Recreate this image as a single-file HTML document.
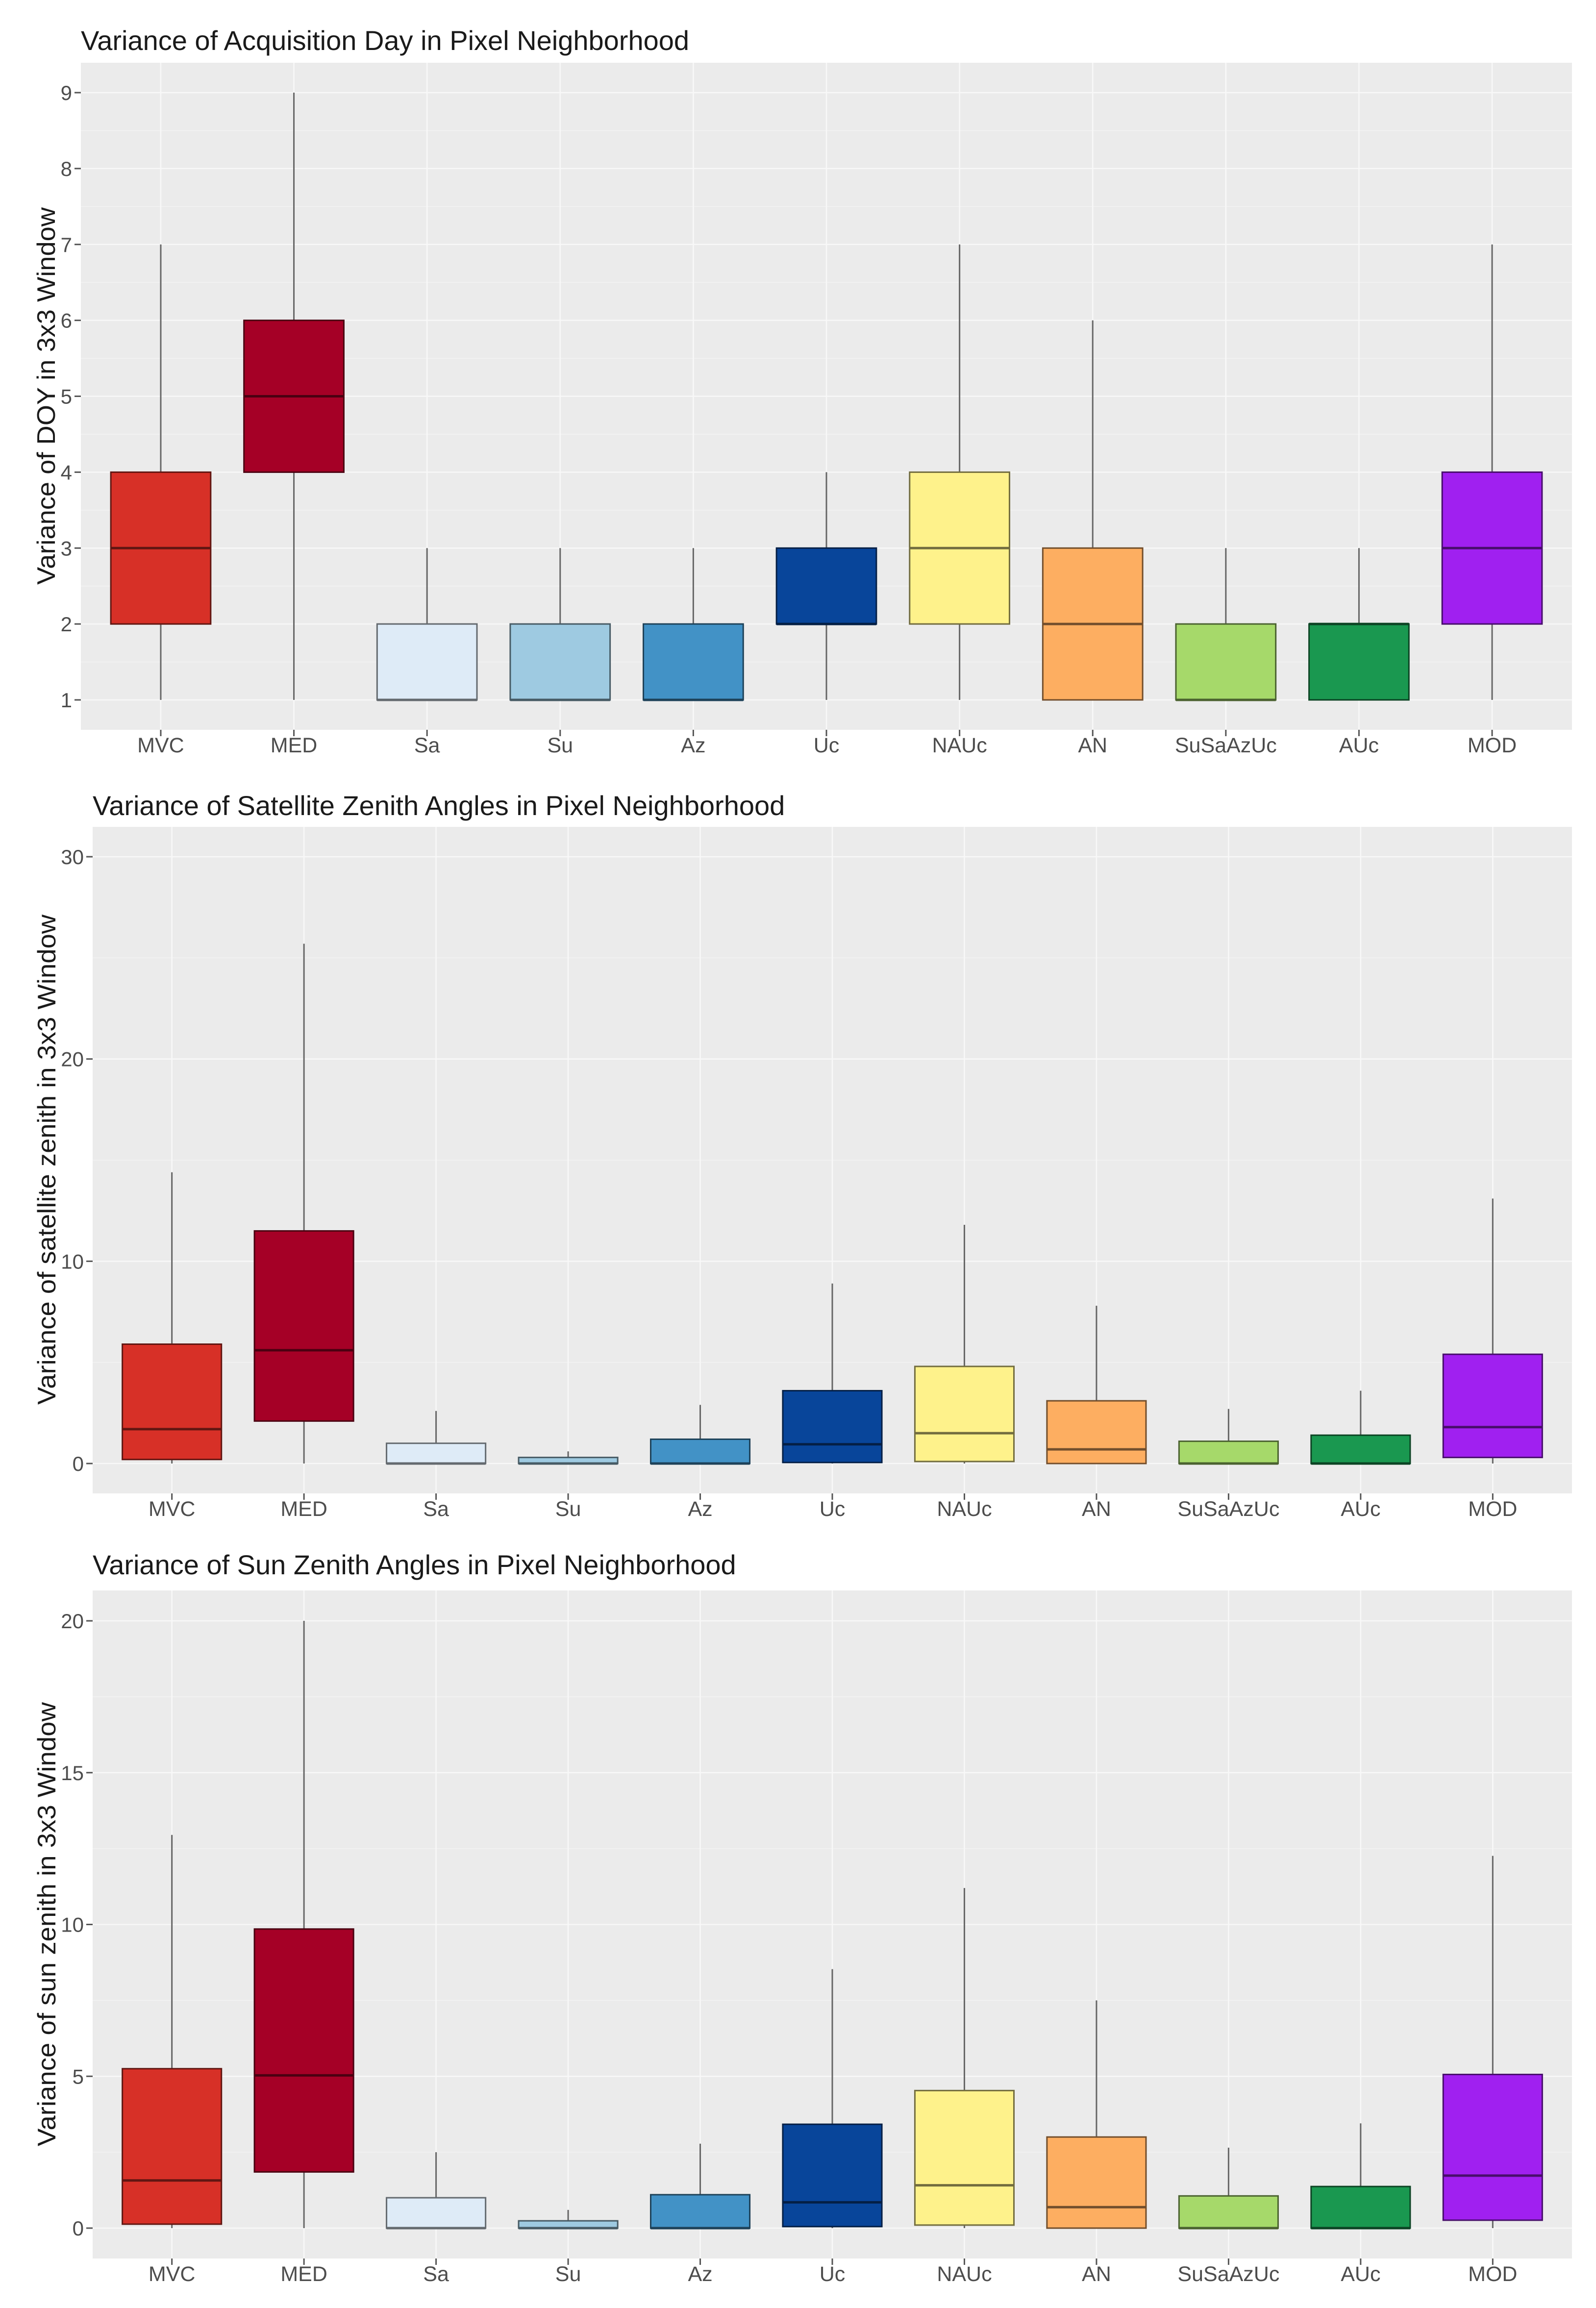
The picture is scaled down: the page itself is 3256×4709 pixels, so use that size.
<!DOCTYPE html>
<html><head><meta charset="utf-8"><style>
html,body{margin:0;padding:0;background:#fff;}
svg{display:block;font-family:"Liberation Sans",sans-serif;}
</style></head><body>
<svg id="chart" width="3256" height="4709" viewBox="0 0 3256 4709" xmlns="http://www.w3.org/2000/svg"></svg>
<script>
const categories = ["MVC","MED","Sa","Su","Az","Uc","NAUc","AN","SuSaAzUc","AUc","MOD"];
const colors = ["#d73027","#a50026","#deebf7","#9ecae1","#4292c6","#08459a","#fef28b","#fdae61","#a6d96a","#1a9850","#a020f0"];
// panel 1: [min,q1,median,q3,max]
const doyMin = [1,1,1,1,1,1,1,1,1,1,1];
const doyQ1  = [2,4,1,1,1,2,2,1,1,1,2];
const doyMed = [3,5,1,1,1,2,3,2,1,2,3];
const doyQ3  = [4,6,2,2,2,3,4,3,2,2,4];
const doyMax = [7,9,3,3,3,4,7,6,3,3,7];
const doyTicks = [1,2,3,4,5,6,7,8,9];
// panel 2
const satMin = [0,0,0,0,0,0,0,0,0,0,0];
const satQ1  = [0.2,2.1,0,0,0,0.05,0.1,0,0,0,0.3];
const satMed = [1.7,5.6,0,0,0,0.95,1.5,0.7,0,0,1.8];
const satQ3  = [5.9,11.5,1.0,0.3,1.2,3.6,4.8,3.1,1.1,1.4,5.4];
const satMax = [14.4,25.7,2.6,0.6,2.9,8.9,11.8,7.8,2.7,3.6,13.1];
const satTicks = [0,10,20,30];
// panel 3
const sunMin = [0,0,0,0,0,0,0,0,0,0,0];
const sunQ1  = [0.13,1.85,0,0,0,0.05,0.1,0,0,0,0.26];
const sunMed = [1.57,5.03,0,0,0,0.85,1.41,0.69,0,0,1.73];
const sunQ3  = [5.25,9.85,1.0,0.24,1.1,3.42,4.53,3.0,1.06,1.37,5.06];
const sunMax = [12.95,20,2.5,0.6,2.78,8.53,11.2,7.5,2.65,3.45,12.26];
const sunTicks = [0,5,10,15,20];

const NS="http://www.w3.org/2000/svg";
const svg=document.getElementById('chart');
function mk(tag,attrs,parent){const e=document.createElementNS(NS,tag);for(const k in attrs)e.setAttribute(k,attrs[k]);(parent||svg).appendChild(e);return e;}
function shade(hex){const n=parseInt(hex.slice(1),16);let r=(n>>16)&255,g=(n>>8)&255,b=n&255;const f=0.45;return `rgb(${Math.round(r*f)},${Math.round(g*f)},${Math.round(b*f)})`;}

function panel(cfg){
  const g=mk('g',{});
  
  
  const L=cfg.left,R=3207,T=cfg.top,B=cfg.bottom;
  const bg=mk('rect',{x:L,y:T,width:R-L,height:B-T,fill:'#ebebeb'},g);
  
  
  const t0=cfg.ticks[0],t1=cfg.ticks[cfg.ticks.length-1];
  const y=v=>cfg.yA+(v-t0)*(cfg.yB-cfg.yA)/(t1-t0);
  const step=cfg.ticks[1]-cfg.ticks[0];
  const n=categories.length;
  const bw=(R-L)/(n-1+1.2);
  const x=i=>L+0.6*bw+i*bw;
  for(let k=0;k<cfg.ticks.length+1;k++){
    const v=t0-step/2+k*step;
    const yy=y(v); if(yy<T||yy>B) continue;
    const ln=mk('line',{x1:L,x2:R,y1:yy,y2:yy,stroke:'#f3f3f3','stroke-width':1.5},g);
    
    
  }
  cfg.ticks.forEach(v=>{
    const yy=y(v);
    const ln=mk('line',{x1:L,x2:R,y1:yy,y2:yy,stroke:'#f8f8f8','stroke-width':2.6},g);
    
    
    const tk=mk('line',{x1:L-13,x2:L,y1:yy,y2:yy,stroke:'#555','stroke-width':3},g);
    
    
    const tx=mk('text',{x:L-18,y:yy+15,'text-anchor':'end','font-size':42,fill:'#4d4d4d'},g);
    tx.textContent=v;
    
    
  });
  categories.forEach((c,i)=>{
    const xx=x(i);
    const gl=mk('line',{x1:xx,x2:xx,y1:T,y2:B,stroke:'#f8f8f8','stroke-width':2.6},g);
    
    
    const tk=mk('line',{x1:xx,x2:xx,y1:B,y2:B+13,stroke:'#555','stroke-width':3},g);
    
    
    const tx=mk('text',{x:xx,y:B+46,'text-anchor':'middle','font-size':43,fill:'#4d4d4d'},g);
    tx.textContent=c;
    
    
  });
  categories.forEach((c,i)=>{
    const xx=x(i),w=bw*0.75;
    const d=cfg.data;
    const wk=mk('line',{x1:xx,x2:xx,y1:y(d[4][i]),y2:y(d[0][i]),stroke:'#666','stroke-width':3},g);
    
    
    const yq3=y(d[3][i]),yq1=y(d[1][i]);
    const bx=mk('rect',{x:xx-w/2,y:Math.min(yq3,yq1),width:w,height:Math.max(Math.abs(yq1-yq3),1),fill:colors[i],stroke:shade(colors[i]),'stroke-width':3},g);
    
    
    const md=mk('line',{x1:xx-w/2,x2:xx+w/2,y1:y(d[2][i]),y2:y(d[2][i]),stroke:shade(colors[i]),'stroke-width':5},g);
    
    
  });
  const tt=mk('text',{x:L,y:cfg.titleY,'font-size':56,fill:'#1a1a1a'},g);
  tt.textContent=cfg.title;
  
  
  const yt=mk('text',{x:0,y:0,'font-size':52,fill:'#1a1a1a','text-anchor':'middle',textLength:cfg.ytLen,lengthAdjust:'spacingAndGlyphs',transform:`translate(${cfg.ytX},${cfg.ytY}) rotate(-90)`},g);
  yt.textContent=cfg.ytitle;
  
  
}

panel({name:'panel-acquisition-day',left:165,top:128,bottom:1489,ticks:doyTicks,yA:1428,yB:189,titleY:102,
  title:'Variance of Acquisition Day in Pixel Neighborhood',ytitle:'Variance of DOY in 3x3 Window',ytX:112,ytY:808,ytLen:770,
  data:[doyMin,doyQ1,doyMed,doyQ3,doyMax]});
panel({name:'panel-satellite-zenith',left:189,top:1687,bottom:3047,ticks:satTicks,yA:2986,yB:1748,titleY:1663,
  title:'Variance of Satellite Zenith Angles in Pixel Neighborhood',ytitle:'Variance of satellite zenith in 3x3 Window',ytX:113,ytY:2366,ytLen:1000,
  data:[satMin,satQ1,satMed,satQ3,satMax]});
panel({name:'panel-sun-zenith',left:189,top:3245,bottom:4608,ticks:sunTicks,yA:4546,yB:3307,titleY:3212,
  title:'Variance of Sun Zenith Angles in Pixel Neighborhood',ytitle:'Variance of sun zenith in 3x3 Window',ytX:113,ytY:3926,ytLen:906,
  data:[sunMin,sunQ1,sunMed,sunQ3,sunMax]});
</script>
</body></html>
